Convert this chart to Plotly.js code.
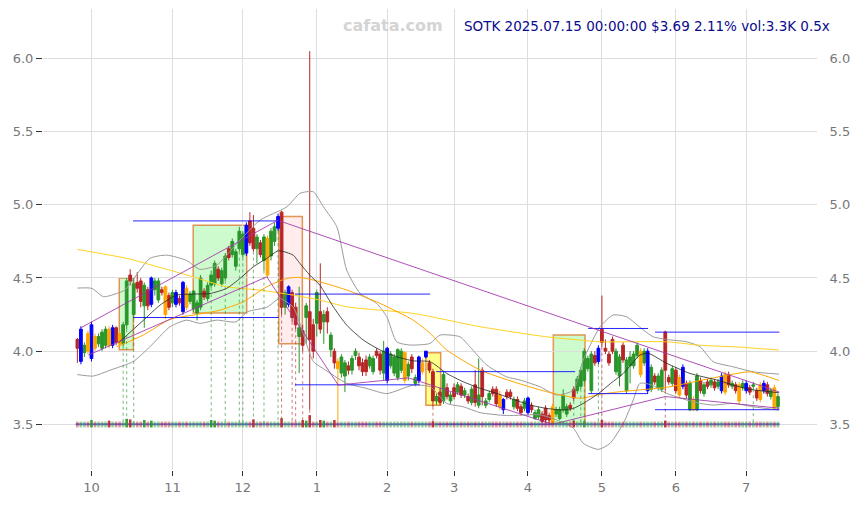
<!DOCTYPE html>
<html><head><meta charset="utf-8">
<script src="https://cdn.plot.ly/plotly-3.0.1.min.js"></script>
<style>html,body{margin:0;padding:0;background:#fff}#chart{width:858px;height:505px}</style>
</head><body><div id="chart"></div>
<script>
// ---- daily bars, index 0 = 2024-09-25 ... 199 = 2025-07-15 (trading days) ----
const openP = [
 4.08,3.93,3.99,4.12,3.95,4.10,4.05,4.02,4.04,4.15,4.04,4.16,4.12,
 4.05,4.18,4.52,4.25,4.47,4.48,4.31,4.42,4.32,4.42,4.35,4.42,4.44,4.38,4.33,4.32,4.36,4.27,4.43,4.34,4.29,
 4.26,4.30,4.41,4.36,4.45,4.46,4.56,4.46,4.50,4.70,4.66,4.58,4.70,4.66,4.67,4.89,4.84,4.70,4.74,4.62,4.77,4.65,4.75,4.84,4.95,
 4.30,4.32,4.40,4.30,4.10,4.14,4.23,4.27,4.18,4.19,4.27,4.20,4.27,4.01,4.00,3.93,
 3.85,3.83,3.90,3.87,3.97,3.96,3.92,3.94,3.90,3.86,4.00,3.98,3.85,3.80,3.90,3.85,3.82,3.87,3.80,3.83,3.96,3.78,3.80,3.86,3.96,3.92,3.86,3.66,3.72,3.66,3.75,3.66,3.75,3.72,
 3.76,3.70,3.69,3.65,3.77,3.63,3.87,3.63,3.67,3.74,3.74,3.70,3.60,3.72,3.72,3.62,3.67,3.62,3.61,3.58,3.63,3.54,3.55,3.57,3.61,3.56,3.62,3.57,3.54,3.60,3.57,3.63,3.74,3.73,3.76,3.80,3.88,3.73,3.97,3.93,
 4.15,4.02,3.98,4.08,3.86,3.83,4.04,3.73,3.90,3.90,3.97,4.00,3.92,3.73,3.74,3.83,3.75,3.74,4.13,3.82,3.78,3.87,3.82,3.76,3.78,3.60,3.67,3.60,3.80,3.71,3.79,3.77,3.79,3.76,3.73,3.84,3.84,3.76,3.77,3.77,3.75,3.73,3.75,3.76,3.73,3.77,3.73,3.77,3.69,3.75,3.62
];
const highP = [
 4.09,4.17,4.06,4.14,4.20,4.12,4.12,4.15,4.17,4.17,4.18,4.17,4.14,
 4.20,4.50,4.56,4.50,4.54,4.50,4.47,4.44,4.51,4.50,4.50,4.44,4.45,4.40,4.42,4.42,4.38,4.48,4.45,4.41,4.42,
 4.35,4.52,4.43,4.47,4.55,4.62,4.58,4.57,4.67,4.72,4.77,4.70,4.85,4.82,4.88,4.95,4.93,4.80,4.76,4.80,4.79,4.84,4.88,4.94,4.96,
 4.42,4.45,4.42,4.33,4.44,4.18,4.33,6.05,4.22,4.42,4.60,4.28,4.30,4.13,4.02,3.95,
 3.98,3.94,3.93,3.97,4.02,3.99,3.95,3.97,3.98,3.97,4.02,4.00,4.07,4.03,4.00,3.98,4.02,4.02,4.00,3.93,3.98,3.84,3.97,3.95,4.00,3.94,3.88,3.71,3.75,3.86,3.78,3.72,3.78,3.79,
 3.78,3.75,3.71,3.76,3.87,3.95,3.89,3.68,3.73,3.76,3.76,3.73,3.68,3.74,3.74,3.69,3.69,3.64,3.68,3.69,3.65,3.60,3.62,3.59,3.63,3.58,3.64,3.62,3.62,3.74,3.64,3.65,3.76,3.83,3.89,4.02,3.97,4.00,4.00,4.04,
 4.38,4.08,4.00,4.10,4.02,3.98,4.06,3.96,4.00,4.00,4.06,4.02,4.02,4.02,3.91,3.85,3.85,3.89,4.14,3.84,3.90,3.89,3.84,3.91,3.80,3.80,3.69,3.85,3.82,3.79,3.81,3.82,3.81,3.81,3.85,3.86,3.86,3.80,3.79,3.79,3.80,3.80,3.77,3.79,3.75,3.79,3.80,3.79,3.75,3.77,3.71
];
const lowP = [
 3.92,3.91,3.96,3.98,3.93,4.00,4.03,4.00,4.02,4.02,4.02,4.04,4.03,
 4.03,4.15,4.45,4.22,4.40,4.30,4.16,4.28,4.30,4.38,4.33,4.38,4.22,4.28,4.30,4.30,4.31,4.25,4.28,4.32,4.27,
 4.21,4.28,4.35,4.34,4.43,4.44,4.48,4.44,4.48,4.62,4.64,4.55,4.68,4.64,4.65,4.72,4.68,4.60,4.64,4.55,4.50,4.62,4.72,4.82,4.25,
 4.25,4.30,4.20,4.15,3.85,4.00,4.05,3.60,3.95,4.10,4.12,4.05,4.12,3.96,3.88,3.52,
 3.82,3.72,3.84,3.84,3.94,3.87,3.83,3.83,3.88,3.84,3.95,3.84,3.80,3.78,3.88,3.83,3.80,3.85,3.78,3.80,3.85,3.76,3.78,3.84,3.95,3.85,3.62,3.63,3.63,3.64,3.67,3.64,3.67,3.70,
 3.68,3.68,3.64,3.63,3.62,3.61,3.63,3.61,3.65,3.69,3.62,3.60,3.57,3.67,3.67,3.60,3.59,3.56,3.59,3.56,3.58,3.53,3.53,3.51,3.51,3.51,3.50,3.55,3.53,3.58,3.55,3.59,3.66,3.71,3.74,3.78,3.86,3.71,3.90,3.91,
 4.03,3.98,3.90,3.98,3.84,3.76,3.92,3.71,3.78,3.88,3.95,3.82,3.90,3.71,3.72,3.77,3.73,3.72,3.73,3.77,3.76,3.71,3.68,3.74,3.68,3.59,3.59,3.59,3.71,3.69,3.74,3.75,3.73,3.74,3.71,3.70,3.75,3.74,3.71,3.64,3.73,3.71,3.70,3.74,3.66,3.65,3.71,3.69,3.67,3.60,3.60
];
const closeP = [
 4.02,4.15,4.04,4.00,4.18,4.02,4.10,4.13,4.15,4.04,4.16,4.06,4.05,
 4.18,4.48,4.48,4.46,4.43,4.34,4.45,4.31,4.50,4.48,4.48,4.40,4.25,4.30,4.40,4.40,4.33,4.47,4.30,4.39,4.41,
 4.33,4.50,4.37,4.45,4.52,4.60,4.50,4.55,4.65,4.64,4.75,4.68,4.82,4.80,4.86,4.74,4.70,4.78,4.66,4.78,4.52,4.82,4.85,4.92,4.30,
 4.40,4.44,4.23,4.18,4.16,4.04,4.31,4.08,4.00,4.40,4.15,4.25,4.20,4.11,3.92,3.88,
 3.96,3.92,3.87,3.95,4.00,3.90,3.86,3.86,3.96,3.95,3.97,3.87,4.00,4.02,3.98,3.96,4.01,4.00,3.99,3.91,3.88,3.82,3.96,3.92,4.00,3.87,3.66,3.69,3.65,3.84,3.69,3.70,3.69,3.77,
 3.70,3.73,3.66,3.74,3.65,3.70,3.69,3.66,3.71,3.71,3.64,3.62,3.67,3.69,3.69,3.67,3.61,3.58,3.66,3.68,3.60,3.58,3.60,3.52,3.53,3.53,3.51,3.60,3.60,3.70,3.62,3.61,3.68,3.81,3.87,4.00,3.95,3.98,3.92,4.02,
 4.06,4.00,3.92,4.00,4.00,3.96,3.94,3.94,3.96,3.98,4.04,3.84,4.00,4.00,3.89,3.79,3.83,3.87,3.87,3.79,3.88,3.73,3.70,3.89,3.70,3.78,3.60,3.83,3.73,3.77,3.76,3.80,3.75,3.79,3.83,3.72,3.77,3.78,3.73,3.66,3.78,3.78,3.72,3.77,3.68,3.67,3.78,3.71,3.73,3.61,3.69
];
const volumeK = [
 5,7,4,6,12,5,4,6,5,11,6,4,5,9,14,13,8,6,5,12,
 6,11,5,4,6,8,5,4,6,5,7,6,4,5,7,6,5,6,12,11,
 6,5,7,5,6,8,9,7,8,9,13,6,5,7,8,6,7,9,15,8,
 7,6,9,7,12,11,20,6,7,12,11,5,6,12,9,6,5,4,5,6,
 4,5,6,4,5,6,4,7,6,5,4,5,6,7,5,4,6,5,4,5,
 6,10,5,4,6,5,4,5,6,4,5,4,6,7,9,8,5,4,5,6,
 5,6,4,5,6,5,4,6,5,4,6,5,7,6,5,8,6,5,7,6,
 9,11,8,9,10,7,8,6,9,12,8,6,5,6,5,7,6,5,4,5,
 6,5,7,5,4,5,6,11,5,6,7,5,6,5,7,6,8,5,4,5,
 4,5,4,6,5,7,6,5,6,4,5,4,6,5,7,5,6,4,5,3.3
];
const blueIdx = [1,4,10,21,28,30,48,57,60,88,97,99,121,128,148,162,172,183,190,195];
const orangeIdx = [3,5,9,12,25,31,54,74,93,98,120,135,160,171,175,184,188,194,198];
const buyIdx = [13,14,16,38,42,46,47,50,53,57,141,143,144,148,192];
const sellIdx = [58,61,62,64,66,101,149,167];

// month tick positions (trading-day index of first session of month)
const monthTickIdx = [4,27,47,68,88,107,128,149,170,190];
const monthTickText = ['10','11','12','1','2','3','4','5','6','7'];
const priceTicks = [3.5,4.0,4.5,5.0,5.5,6.0];

// indicator lines (index, value)
const maShortX = [11.8,18.7,23.5,28.2,32.9,37.7,42.4,46.2,50.0,53.8,57.1,61.3,63.2,66.0,68.9,72.7,76.5,81.2,86.0,90.7,95.4,100.2,104.9,109.6,114.4,119.1,123.8,128.6,133.3,138.0,140.9,143.7,148.0,151.5,155.1,159.8,162.2,167.4,174.0,181.6,186.3,191.1,199.3];
const maShortY = [4.06,4.21,4.315,4.383,4.39,4.394,4.429,4.497,4.577,4.634,4.686,4.656,4.60,4.52,4.45,4.303,4.178,4.076,4.008,3.962,3.934,3.928,3.848,3.791,3.746,3.712,3.671,3.632,3.609,3.598,3.609,3.643,3.71,3.78,3.848,3.973,3.985,3.917,3.848,3.803,3.768,3.739,3.716];
const maMidX = [11.2,18.7,26.3,32.9,40.5,47.1,53.8,59.5,63.2,67.0,76.5,86.0,95.4,100.2,104.9,114.4,123.8,133.3,142.8,148.5,154.1,167.4,177.0,186.3,191.1,199.3];
const maMidY = [4.03,4.11,4.217,4.247,4.28,4.337,4.44,4.497,4.504,4.486,4.418,4.326,4.212,4.122,4.008,3.871,3.791,3.723,3.678,3.705,3.723,3.753,3.80,3.843,3.859,3.80];
const maLongX = [0,14.0,23.5,32.9,42.4,51.9,61.3,68.9,76.5,95.4,114.4,133.3,142.8,148.5,167.4,177.0,186.3,199.3];
const maLongY = [4.695,4.634,4.572,4.508,4.44,4.417,4.383,4.349,4.303,4.258,4.167,4.098,4.076,4.064,4.064,4.04,4.03,4.008];
const bbUpX = [0,4.1,7.4,11.5,13.5,20.6,25.4,31.0,34.8,39.6,45.3,51.9,59.5,63.2,67.0,69.9,73.7,76.5,80.3,85.0,87.9,90.7,94.5,100.2,103.0,108.7,111.5,116.3,121.9,125.7,131.4,136.2,140.9,143.7,148.5,152.2,156.0,160.8,163.6,167.4,173.1,176.9,180.6,186.3,192.0,199.3];
const bbUpY = [4.431,4.429,4.372,4.397,4.418,4.634,4.656,4.62,4.559,4.588,4.736,4.895,4.986,5.078,5.089,4.986,4.85,4.554,4.395,4.326,4.235,4.064,4.042,4.053,4.11,4.098,4.03,3.905,3.825,3.803,3.757,3.70,3.734,3.939,4.167,4.247,4.235,4.144,4.098,4.08,4.064,4.03,3.928,3.893,3.859,3.843];
const bbLowX = [0,4.5,9.3,15.9,20.6,26.3,31.0,34.8,39.6,45.0,48.4,53.8,57.5,61.3,63.2,67.0,69.9,76.5,82.2,87.9,95.4,100.2,104.9,109.6,114.4,121.9,131.4,136.2,140.9,143.7,148.0,151.3,155.1,157.9,159.8,163.0,167.4,173.1,176.9,180.6,186.3,192.0,199.3];
const bbLowY = [3.84,3.83,3.87,3.93,4.03,4.167,4.212,4.19,4.212,4.20,4.27,4.30,4.36,4.30,4.19,3.93,3.88,3.78,3.745,3.71,3.768,3.757,3.643,3.62,3.58,3.56,3.565,3.53,3.473,3.37,3.329,3.37,3.507,3.666,3.78,3.77,3.712,3.666,3.643,3.632,3.643,3.62,3.598];

// horizontal support/resistance levels
const levelX0 = [15.8,15.9,61.8,61.8,101.9,145.1,145.1,164.1,164.1,101.9];
const levelX1 = [57.5,57.1,100.2,97.3,141.4,162.1,162.1,199.4,199.4,135.0];
const levelY  = [4.89,4.23,4.39,3.77,3.86,4.155,3.71,4.13,3.60,3.50];
const baseLevel = 3.50;
// trend lines
const trendX0 = [0.7,3.1,57.55,53.8,74.1,94.0,135.0,167.0];
const trendY0 = [4.156,3.973,4.889,4.508,3.768,3.818,3.50,3.69];
const trendX1 = [57.1,53.8,199.4,74.1,94.0,135.0,167.0,199.4];
const trendY1 = [4.896,4.508,3.72,3.768,3.818,3.50,3.69,3.61];
// pattern boxes
const boxX0 = [11.9,32.9,57.2,99.0,135.2];
const boxX1 = [15.9,48.1,63.9,103.2,144.2];
const boxY0 = [4.01,4.26,4.05,3.63,3.50];
const boxY1 = [4.50,4.86,4.92,3.99,4.11];
const boxKind = ['up','up','down','flat','up'];

const titleText = 'SOTK 2025.07.15 00:00:00 $3.69 2.11% vol:3.3K 0.5x';
const watermark = 'cafata.com';

// ---------------------------------------------------------------
const N = closeP.length;
const idx = Array.from({length:N},(_,i)=>i);
const GREEN = '#2a962a', RED = '#b82525', BLUE = '#0000ff', ORANGE = '#ffa500';
const special = new Set([...blueIdx, ...orangeIdx]);
function pick(list){return {x:list, open:list.map(i=>openP[i]), high:list.map(i=>highP[i]), low:list.map(i=>lowP[i]), close:list.map(i=>closeP[i])};}
function candle(list, inc, dec){
  const d = pick(list);
  return Object.assign({type:'candlestick', hoverinfo:'skip', whiskerwidth:0,
    increasing:{line:{color:inc,width:1},fillcolor:inc},
    decreasing:{line:{color:dec,width:1},fillcolor:dec}, showlegend:false}, d);
}
const traces = [];
function line(x,y,color,w,dash){traces.push({type:'scatter',mode:'lines',x:x,y:y,line:{color:color,width:w,dash:dash||'solid',shape:'spline',smoothing:0.6},hoverinfo:'skip',showlegend:false});}
line(bbUpX,bbUpY,'#9a9a9a',1);
line(bbLowX,bbLowY,'#9a9a9a',1);
line(maLongX,maLongY,'#ffd21f',1);
line(maMidX,maMidY,'#ffa500',1);
line(maShortX,maShortY,'#222222',0.8);

function sig(list,color){
  const x=[],y=[];
  list.forEach(i=>{x.push(i,i,null);y.push(lowP[i],baseLevel,null);});
  traces.push({type:'scatter',mode:'lines',x:x,y:y,line:{color:color,width:1,dash:'dot'},hoverinfo:'skip',showlegend:false});
}
sig(buyIdx,'rgba(34,139,34,0.6)');
sig(sellIdx,'rgba(178,34,34,0.6)');

// candles
traces.push(candle(idx.filter(i=>!special.has(i)),GREEN,RED));
traces.push(candle(blueIdx,BLUE,BLUE));
traces.push(candle(orangeIdx,ORANGE,ORANGE));

// levels, base line, trend lines (drawn over candles)
{
  const x=[],y=[];
  levelX0.forEach((x0,k)=>{x.push(x0,levelX1[k],null);y.push(levelY[k],levelY[k],null);});
  traces.push({type:'scatter',mode:'lines',x:x,y:y,line:{color:'rgba(0,0,255,0.85)',width:1},hoverinfo:'skip',showlegend:false});
  const tx=[],ty=[];
  trendX0.forEach((x0,k)=>{tx.push(x0,trendX1[k],null);ty.push(trendY0[k],trendY1[k],null);});
  traces.push({type:'scatter',mode:'lines',x:tx,y:ty,line:{color:'rgba(160,50,170,0.85)',width:1},hoverinfo:'skip',showlegend:false});
}
// volume strip drawn as thick vertical segments (scatter) so it sits above the base line
const volBase = 3.479, volPerK = 0.0042, volMin = 0.04;
function volTrace(list,color){
  const x=[],y=[];
  list.forEach(i=>{x.push(i,i,null);y.push(volBase,volBase+Math.max(volMin,volumeK[i]*volPerK),null);});
  traces.push({type:'scatter',mode:'lines',x:x,y:y,line:{color:color,width:2.6},hoverinfo:'skip',showlegend:false});
}
traces.push({type:'scatter',mode:'lines',x:[-0.5,N-0.5],y:[baseLevel,baseLevel],line:{color:'rgba(80,80,210,0.85)',width:2},hoverinfo:'skip',showlegend:false});
volTrace(idx.filter(i=>closeP[i]>=openP[i]&&volumeK[i]<10),'rgba(42,150,42,0.45)');
volTrace(idx.filter(i=>closeP[i]<openP[i]&&volumeK[i]<10),'rgba(184,37,37,0.45)');
volTrace(idx.filter(i=>closeP[i]>=openP[i]&&volumeK[i]>=10),'rgba(42,150,42,0.9)');
volTrace(idx.filter(i=>closeP[i]<openP[i]&&volumeK[i]>=10),'rgba(184,37,37,0.9)');
// dummy for right axis
traces.push({type:'scatter',x:[0],y:[baseLevel],yaxis:'y2',mode:'markers',marker:{opacity:0},hoverinfo:'skip',showlegend:false});

const boxFill = {up:'rgba(60,240,60,0.25)',down:'rgba(255,120,120,0.14)',flat:'rgba(255,255,40,0.55)'};
const shapes = boxX0.map((x0,k)=>({type:'rect',xref:'x',yref:'y',x0:x0,x1:boxX1[k],y0:boxY0[k],y1:boxY1[k],
  fillcolor:boxFill[boxKind[k]],line:{color:'rgba(222,130,60,0.85)',width:1.5},layer:'below'}));

const yRange = [3.188,6.338];
const tickFont = {family:'DejaVu Sans, sans-serif',size:13,color:'#777'};
const layout = {
  width:858,height:505,margin:{l:43,r:41,t:9,b:35},
  paper_bgcolor:'#fff',plot_bgcolor:'#fff',showlegend:false,
  boxgap:0.22, boxgroupgap:0,
  xaxis:{range:[-9.77,210.1],tickmode:'array',tickvals:monthTickIdx,ticktext:monthTickText,
    showgrid:true,gridcolor:'#dddddd',gridwidth:1,zeroline:false,showline:false,
    ticks:'outside',ticklen:5,tickcolor:'#333',tickfont:tickFont,rangeslider:{visible:false},fixedrange:true},
  yaxis:{range:yRange,tickmode:'array',tickvals:priceTicks,tickformat:'.1f',showgrid:true,gridcolor:'#dddddd',gridwidth:1,
    zeroline:false,showline:false,ticks:'outside',ticklen:6,tickcolor:'#333',tickfont:tickFont,fixedrange:true},
  yaxis2:{range:yRange,overlaying:'y',side:'right',tickmode:'array',tickvals:priceTicks,tickformat:'.1f',showgrid:false,
    zeroline:false,showline:false,ticks:'outside',ticklen:9,tickcolor:'rgba(0,0,0,0)',tickfont:tickFont,fixedrange:true},
  shapes:shapes,
  annotations:[
    {xref:'paper',yref:'paper',x:1.019,y:0.963,xanchor:'right',yanchor:'middle',text:titleText,showarrow:false,
     font:{family:'DejaVu Sans, sans-serif',size:13.5,color:'#0a0a8c'}},
    {xref:'paper',yref:'paper',x:0.452,y:0.965,xanchor:'center',yanchor:'middle',text:watermark,showarrow:false,
     font:{family:'DejaVu Sans, sans-serif',size:16,color:'#d4d4d4',weight:'bold'}}
  ]
};
Plotly.newPlot('chart',traces,layout,{staticPlot:true,displayModeBar:false});
</script></body></html>
